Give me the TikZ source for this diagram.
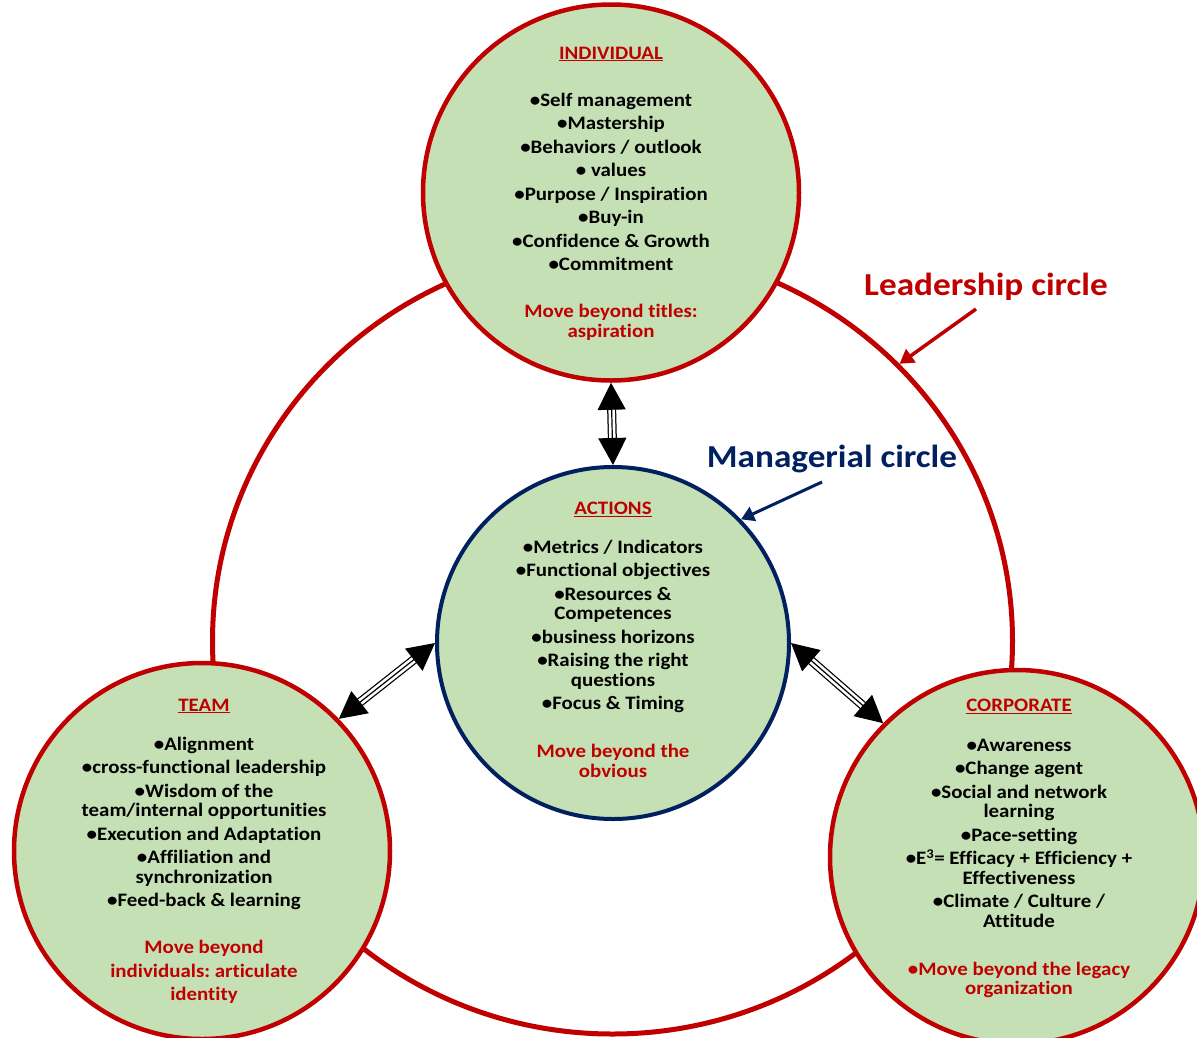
\documentclass[tikz,border=0pt]{standalone}
\usepackage{fontspec}
\setmainfont{Carlito}[FakeStretch=1.1, Ligatures=NoCommon]
\usetikzlibrary{arrows.meta,calc,shapes.geometric}
\definecolor{leadred}{HTML}{C00000}
\definecolor{mgrblue}{HTML}{002060}
\definecolor{leafgreen}{HTML}{C5E0B4}

\newcommand{\hd}[1]{\textcolor{leadred}{\underline{#1}}}
\newcommand{\rd}[1]{\textcolor{leadred}{#1}}
\frenchspacing

\begin{document}
\begin{tikzpicture}[x=1pt,y=-1pt,
  bubble/.style={circle, draw=leadred, line width=4.5pt, fill=leafgreen,
    minimum size=#1, inner sep=0pt},
  body/.style={align=center, inner sep=0pt, anchor=north,
    font=\fontsize{19}{19.5}\selectfont\bfseries},
  biglabel/.style={inner sep=0pt, font=\fontsize{32}{36}\selectfont\bfseries},
  link/.style={draw=black, line width=1.2pt,
    {Triangle[length=27pt,width=28pt]}-{Triangle[length=27pt,width=28pt]},
    preaction={draw=black, line width=9pt, -, shorten <=24pt, shorten >=24pt},
    preaction={draw=white, line width=6.5pt, -, shorten <=23pt, shorten >=23pt}}
]
\useasboundingbox (0,0) rectangle (1197,1037);

% outer leadership ring
\node[ellipse, draw=leadred, line width=5pt, minimum width=800pt,
  minimum height=786pt, inner sep=0pt] (lead) at (612.5,641) {};

% the four bubbles
\node[bubble=376pt] (ind) at (611,192.5) {};
\node[bubble=352pt, draw=mgrblue, line width=4pt] (act) at (613,643) {};
\node[bubble=376pt] (team) at (202,851) {};
\node[bubble=374pt] (corp) at (1017,857) {};

% links between the bubbles
\draw[link] (ind.south) -- (act.north);
\draw[link] (act.180) -- (team.44);
\draw[link] (act.0) -- (corp.135);

% bubble contents
\node[body] (indtxt) at ($(ind.center)+(0,-146)$) {%
  \hd{INDIVIDUAL}\\[27.5pt]
  •Self management\\[4pt]
  •Mastership\\[4pt]
  •Behaviors / outlook\\[4pt]
  • values\\[4pt]
  •Purpose / Inspiration\\[4pt]
  •Buy-in\\[4pt]
  •Confidence \& Growth\\[4pt]
  •Commitment\\[27.5pt]
  \rd{Move beyond titles:}\\
  \rd{aspiration}};

\node[body] (acttxt) at ($(act.center)+(0,-141.5)$) {%
  \hd{ACTIONS}\\[19.5pt]
  •Metrics / Indicators\\[4pt]
  •Functional objectives\\[4pt]
  •Resources \&\\
  Competences\\[4pt]
  •business horizons\\[4pt]
  •Raising the right\\
  questions\\[4pt]
  •Focus \& Timing\\[28.5pt]
  \rd{Move beyond the}\\
  \rd{obvious}};

\node[body] (teamtxt) at ($(team.center)+(2,-152.5)$) {%
  \hd{TEAM}\\[19.5pt]
  •Alignment\\[4pt]
  •cross-functional leadership\\[4pt]
  •Wisdom of the\\
  team/internal opportunities\\[4pt]
  •Execution and Adaptation\\[4pt]
  •Affiliation and\\
  synchronization\\[4pt]
  •Feed-back \& learning\\[27.5pt]
  \rd{Move beyond}\\[4pt]
  \rd{individuals: articulate}\\[4pt]
  \rd{identity}};

\node[body] (corptxt) at ($(corp.center)+(2,-158.5)$) {%
  \hd{CORPORATE}\\[20.5pt]
  •Awareness\\[4pt]
  •Change agent\\[4pt]
  •Social and network\\
  learning\\[4pt]
  •Pace-setting\\[4pt]
  •E\textsuperscript{3}= Efficacy + Efficiency +\\
  Effectiveness\\[4pt]
  •Climate / Culture /\\
  Attitude\\[28.5pt]
  \rd{•Move beyond the legacy}\\
  \rd{organization}};

% ring labels with pointers
\node[biglabel, text=leadred] (leadlbl) at (986,287) {Leadership circle};
\coordinate (leadtail) at (976,309);
\draw[leadred, line width=3.5pt, -{Triangle[length=14pt,width=16pt]}]
  (leadtail) -- (lead.44.5);

\node[biglabel, text=mgrblue] (mgrlbl) at (832,459) {Managerial circle};
\coordinate (mgrtail) at (822,482);
\draw[mgrblue, line width=3pt, -{Triangle[length=13pt,width=15pt]}]
  (mgrtail) -- (act.44.5);
\end{tikzpicture}
\end{document}
